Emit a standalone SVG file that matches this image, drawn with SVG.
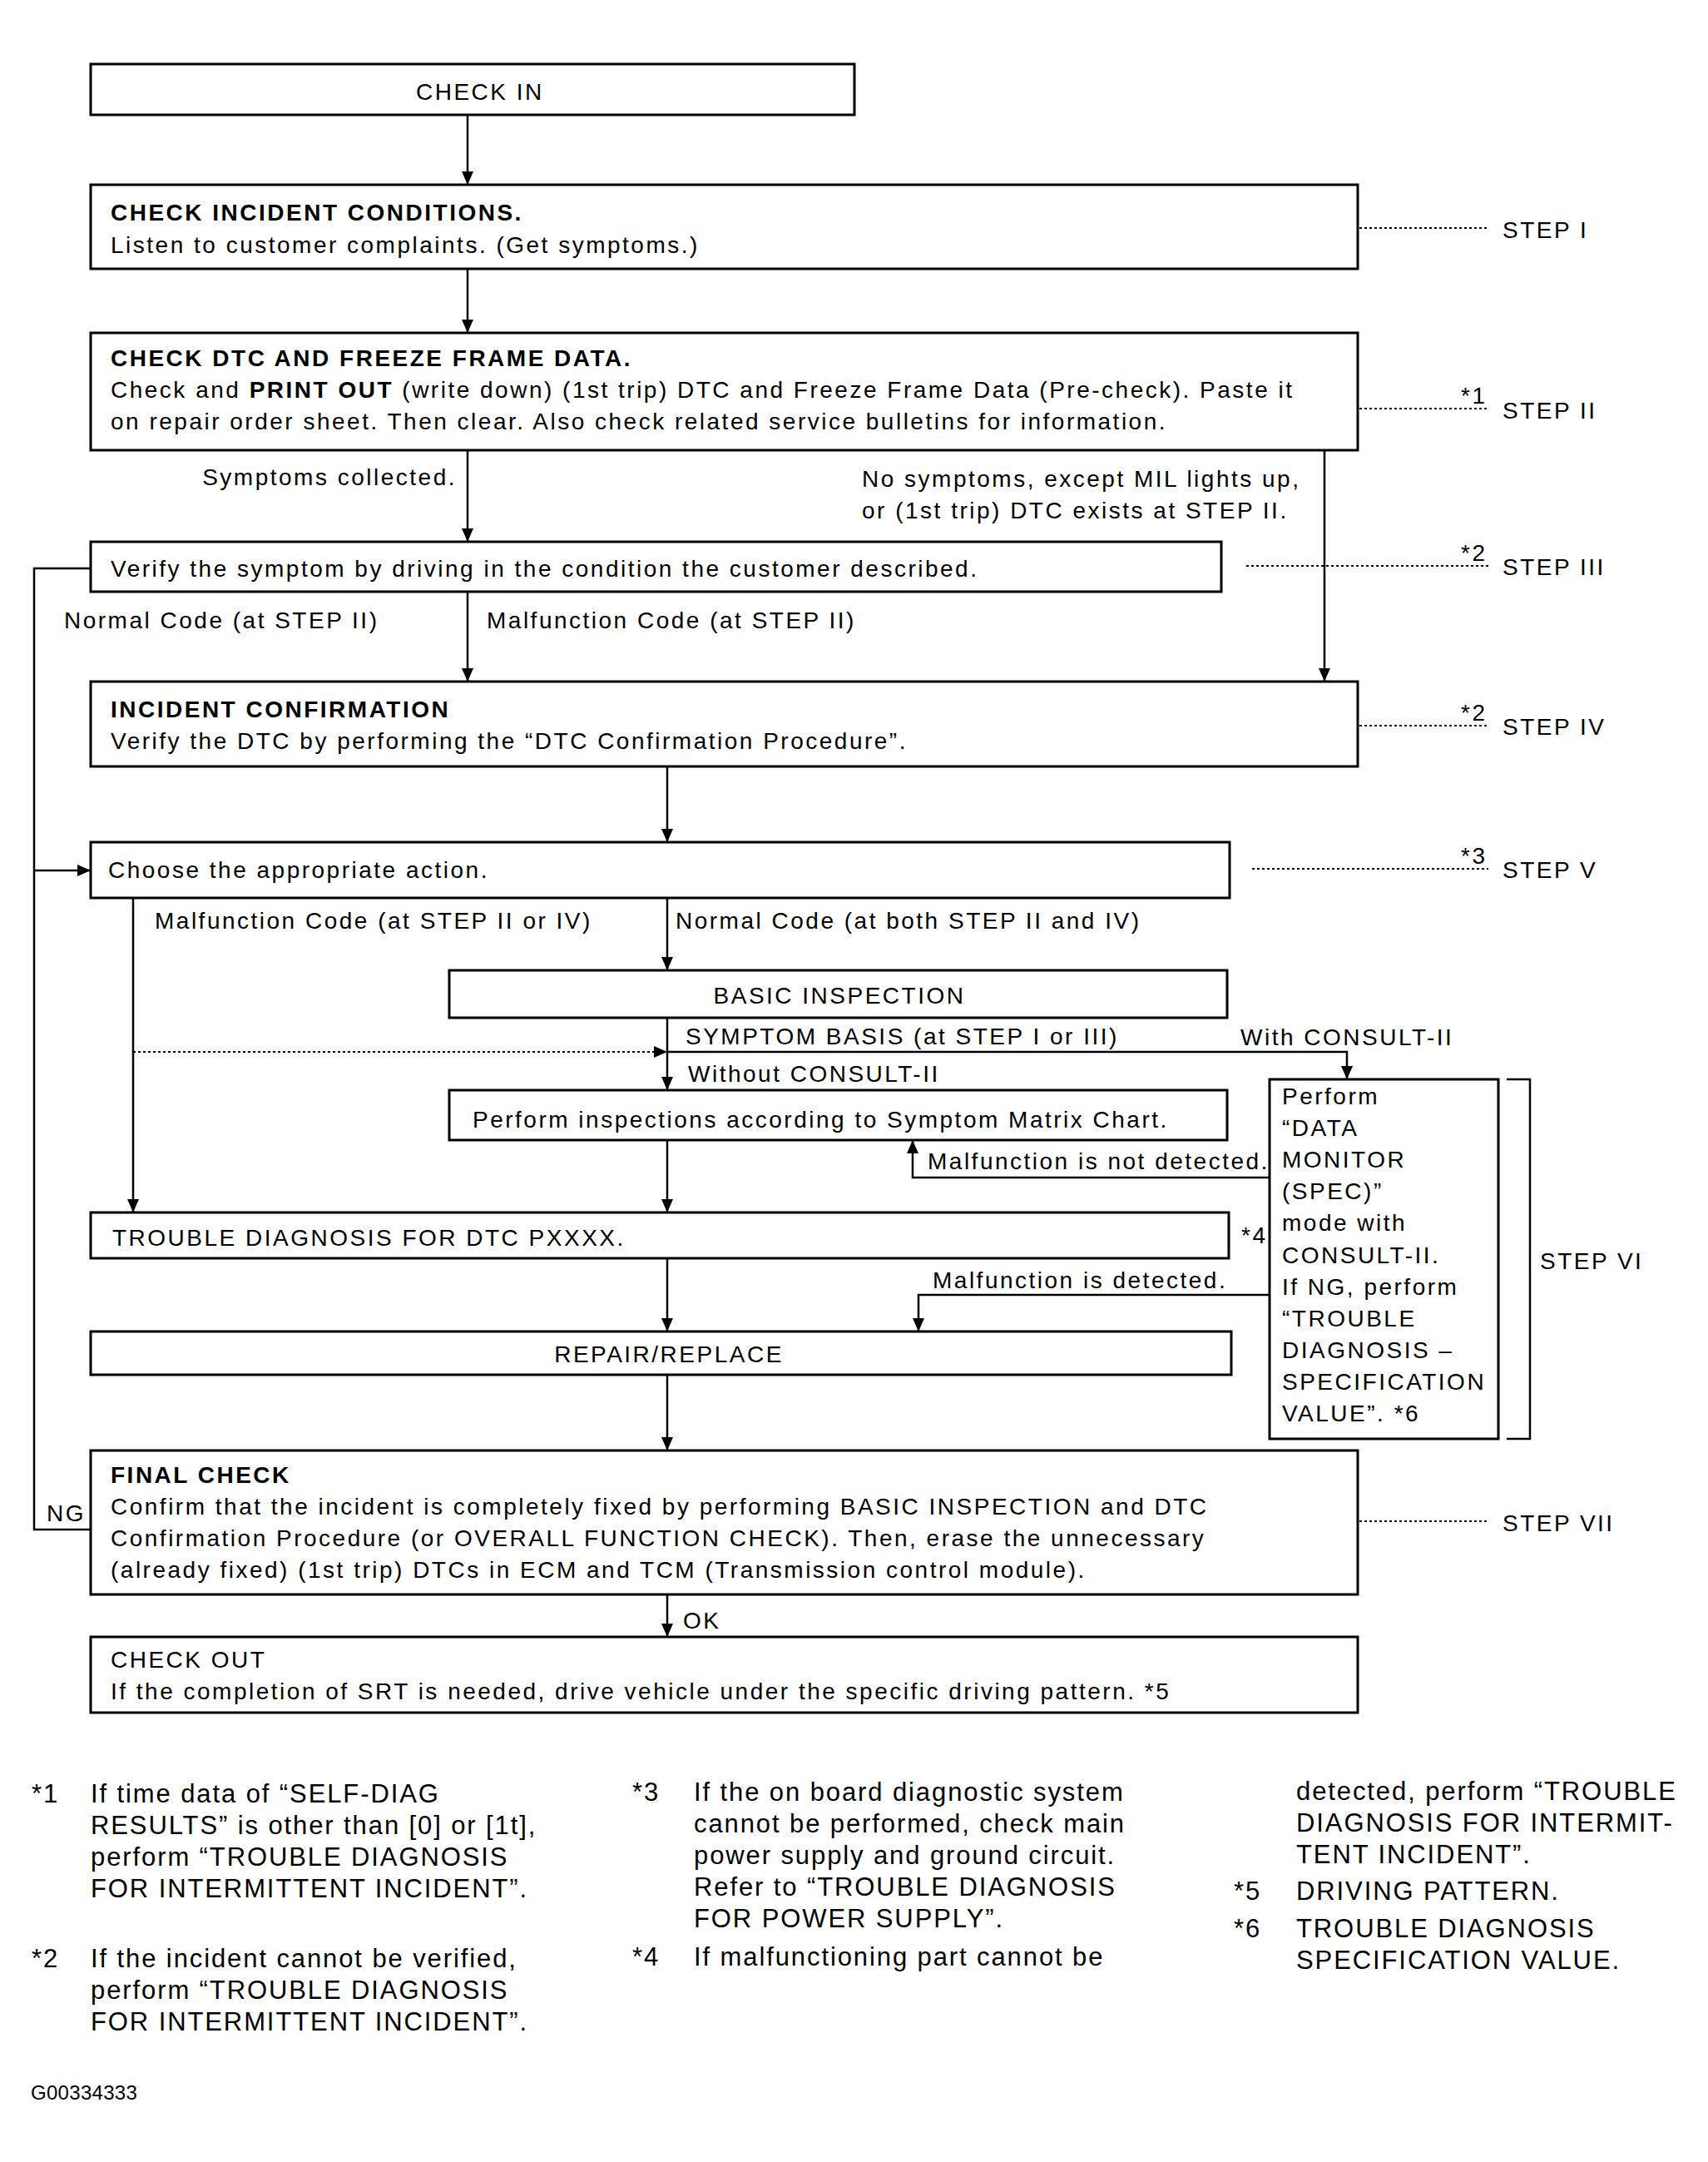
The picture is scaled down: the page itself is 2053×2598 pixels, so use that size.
<svg xmlns="http://www.w3.org/2000/svg" width="2053" height="2598" viewBox="0 0 2053 2598">
<style>
.box{fill:#fff;stroke:#000;stroke-width:3}
.t{font-family:"Liberation Sans",Arial,sans-serif;font-size:28px;letter-spacing:2.5px;fill:#000}
.b{font-weight:bold}
.fn{font-family:"Liberation Sans",Arial,sans-serif;font-size:31px;letter-spacing:1.9px;fill:#000}
.ln{stroke:#000;stroke-width:2.5;fill:none}
.dot{stroke:#000;stroke-width:2;fill:none;stroke-dasharray:3 3}
</style>
<defs>
<marker id="arr" viewBox="0 0 16 14" refX="16" refY="7" markerWidth="16" markerHeight="14" markerUnits="userSpaceOnUse" orient="auto">
<path d="M0,0 L16,7 L0,14 z" fill="#000"/>
</marker>
</defs>
<rect width="2053" height="2598" fill="#fff"/>

<g id="connectors">
<line class="ln" x1="562" y1="138" x2="562" y2="222" marker-end="url(#arr)"/>
<line class="ln" x1="562" y1="323" x2="562" y2="400" marker-end="url(#arr)"/>
<line class="ln" x1="562" y1="541" x2="562" y2="651" marker-end="url(#arr)"/>
<line class="ln" x1="1592" y1="541" x2="1592" y2="819" marker-end="url(#arr)"/>
<line class="ln" x1="562" y1="711" x2="562" y2="819" marker-end="url(#arr)"/>
<line class="ln" x1="802" y1="921" x2="802" y2="1012" marker-end="url(#arr)"/>
<line class="ln" x1="160" y1="1079" x2="160" y2="1457" marker-end="url(#arr)"/>
<line class="ln" x1="802" y1="1079" x2="802" y2="1166" marker-end="url(#arr)"/>
<line class="ln" x1="802" y1="1223" x2="802" y2="1310" marker-end="url(#arr)"/>
<path class="ln" d="M802,1264 H1619 V1297" marker-end="url(#arr)"/>
<line class="dot" x1="160" y1="1264" x2="802" y2="1264" marker-end="url(#arr)"/>
<line class="ln" x1="802" y1="1370" x2="802" y2="1457" marker-end="url(#arr)"/>
<path class="ln" d="M1526,1415 H1097 V1370" marker-end="url(#arr)"/>
<path class="ln" d="M1526,1556 H1104 V1600" marker-end="url(#arr)"/>
<line class="ln" x1="802" y1="1512" x2="802" y2="1600" marker-end="url(#arr)"/>
<line class="ln" x1="802" y1="1652" x2="802" y2="1743" marker-end="url(#arr)"/>
<line class="ln" x1="802" y1="1916" x2="802" y2="1967" marker-end="url(#arr)"/>
<path class="ln" d="M109,683 H41 V1838 H109"/>
<line class="ln" x1="41" y1="1046" x2="109" y2="1046" marker-end="url(#arr)"/>
<text class="t" x="549" y="583" text-anchor="end">Symptoms collected.</text>
<text class="t" x="1036" y="585">No symptoms, except MIL lights up,</text>
<text class="t" x="1036" y="623">or (1st trip) DTC exists at STEP II.</text>
<text class="t" x="77" y="755">Normal Code (at STEP II)</text>
<text class="t" x="585" y="755">Malfunction Code (at STEP II)</text>
<text class="t" x="186" y="1116">Malfunction Code (at STEP II or IV)</text>
<text class="t" x="812" y="1116">Normal Code (at both STEP II and IV)</text>
<text class="t" x="824" y="1255">SYMPTOM BASIS (at STEP I or III)</text>
<text class="t" x="1491" y="1256">With CONSULT-II</text>
<text class="t" x="827" y="1300">Without CONSULT-II</text>
<text class="t" x="1115" y="1405">Malfunction is not detected.</text>
<text class="t" x="1121" y="1548">Malfunction is detected.</text>
<text class="t" x="56" y="1828">NG</text>
<text class="t" x="821" y="1957">OK</text>
</g>

<g id="n-checkin">
<rect class="box" x="109" y="77" width="918" height="61"/>
<text class="t" x="500" y="120">CHECK IN</text>
</g>
<g id="n-incident">
<rect class="box" x="109" y="222" width="1523" height="101"/>
<text class="t b" x="133" y="265">CHECK INCIDENT CONDITIONS.</text>
<text class="t" x="133" y="304">Listen to customer complaints. (Get symptoms.)</text>
</g>
<g id="n-dtc">
<rect class="box" x="109" y="400" width="1523" height="141"/>
<text class="t b" x="133" y="440">CHECK DTC AND FREEZE FRAME DATA.</text>
<text class="t" x="133" y="478">Check and <tspan class="b">PRINT OUT</tspan> (write down) (1st trip) DTC and Freeze Frame Data (Pre-check). Paste it</text>
<text class="t" x="133" y="516">on repair order sheet. Then clear. Also check related service bulletins for information.</text>
</g>
<g id="n-verify">
<rect class="box" x="109" y="651" width="1359" height="60"/>
<text class="t" x="133" y="693">Verify the symptom by driving in the condition the customer described.</text>
</g>
<g id="n-confirm">
<rect class="box" x="109" y="819" width="1523" height="102"/>
<text class="t b" x="133" y="862">INCIDENT CONFIRMATION</text>
<text class="t" x="133" y="900">Verify the DTC by performing the “DTC Confirmation Procedure”.</text>
</g>
<g id="n-choose">
<rect class="box" x="109" y="1012" width="1369" height="67"/>
<text class="t" x="130" y="1055">Choose the appropriate action.</text>
</g>
<g id="n-basic">
<rect class="box" x="540" y="1166" width="935" height="57"/>
<text class="t" x="1009" y="1206" text-anchor="middle">BASIC INSPECTION</text>
</g>
<g id="n-perform">
<rect class="box" x="540" y="1310" width="935" height="60"/>
<text class="t" x="568" y="1355">Perform inspections according to Symptom Matrix Chart.</text>
</g>
<g id="n-datamonitor">
<rect class="box" x="1526" y="1297" width="275" height="432"/>
<text class="t" x="1541" y="1327">Perform</text>
<text class="t" x="1541" y="1365">“DATA</text>
<text class="t" x="1541" y="1403">MONITOR</text>
<text class="t" x="1541" y="1441">(SPEC)”</text>
<text class="t" x="1541" y="1479">mode with</text>
<text class="t" x="1541" y="1518">CONSULT-II.</text>
<text class="t" x="1541" y="1556">If NG, perform</text>
<text class="t" x="1541" y="1594">“TROUBLE</text>
<text class="t" x="1541" y="1632">DIAGNOSIS –</text>
<text class="t" x="1541" y="1670">SPECIFICATION</text>
<text class="t" x="1541" y="1708">VALUE”. *6</text>
</g>
<g id="n-trouble">
<rect class="box" x="109" y="1457" width="1368" height="55"/>
<text class="t" x="135" y="1497">TROUBLE DIAGNOSIS FOR DTC PXXXX.</text>
<text class="t" x="1492" y="1494">*4</text>
</g>
<g id="n-repair">
<rect class="box" x="109" y="1600" width="1371" height="52"/>
<text class="t" x="804" y="1637" text-anchor="middle">REPAIR/REPLACE</text>
</g>
<g id="n-final">
<rect class="box" x="109" y="1743" width="1523" height="173"/>
<text class="t b" x="133" y="1782">FINAL CHECK</text>
<text class="t" x="133" y="1820">Confirm that the incident is completely fixed by performing BASIC INSPECTION and DTC</text>
<text class="t" x="133" y="1858">Confirmation Procedure (or OVERALL FUNCTION CHECK). Then, erase the unnecessary</text>
<text class="t" x="133" y="1896">(already fixed) (1st trip) DTCs in ECM and TCM (Transmission control module).</text>
</g>
<g id="n-checkout">
<rect class="box" x="109" y="1967" width="1523" height="91"/>
<text class="t" x="133" y="2004">CHECK OUT</text>
<text class="t" x="133" y="2042">If the completion of SRT is needed, drive vehicle under the specific driving pattern. *5</text>
</g>

<g id="steps">
<line class="dot" x1="1634" y1="274" x2="1789" y2="274"/>
<text class="t" x="1806" y="286">STEP I</text>
<line class="dot" x1="1634" y1="491" x2="1789" y2="491"/>
<text class="t" x="1756" y="485" letter-spacing="1">*1</text>
<text class="t" x="1806" y="503">STEP II</text>
<line class="dot" x1="1498" y1="680" x2="1789" y2="680"/>
<text class="t" x="1756" y="674" letter-spacing="1">*2</text>
<text class="t" x="1806" y="691">STEP III</text>
<line class="dot" x1="1634" y1="872" x2="1789" y2="872"/>
<text class="t" x="1756" y="866" letter-spacing="1">*2</text>
<text class="t" x="1806" y="883">STEP IV</text>
<line class="dot" x1="1505" y1="1044" x2="1789" y2="1044"/>
<text class="t" x="1756" y="1038" letter-spacing="1">*3</text>
<text class="t" x="1806" y="1055">STEP V</text>
<path class="ln" d="M1811,1297 H1839 V1729 H1811" stroke-width="3"/>
<text class="t" x="1851" y="1525">STEP VI</text>
<line class="dot" x1="1634" y1="1828" x2="1789" y2="1828"/>
<text class="t" x="1806" y="1840">STEP VII</text>
</g>

<g id="footnotes">
<text class="fn" x="38" y="2166">*1</text>
<text class="fn" x="109" y="2166">If time data of “SELF-DIAG</text>
<text class="fn" x="109" y="2204">RESULTS” is other than [0] or [1t],</text>
<text class="fn" x="109" y="2242">perform “TROUBLE DIAGNOSIS</text>
<text class="fn" x="109" y="2280">FOR INTERMITTENT INCIDENT”.</text>
<text class="fn" x="38" y="2364">*2</text>
<text class="fn" x="109" y="2364">If the incident cannot be verified,</text>
<text class="fn" x="109" y="2402">perform “TROUBLE DIAGNOSIS</text>
<text class="fn" x="109" y="2440">FOR INTERMITTENT INCIDENT”.</text>
<text class="fn" x="760" y="2164">*3</text>
<text class="fn" x="834" y="2164">If the on board diagnostic system</text>
<text class="fn" x="834" y="2202">cannot be performed, check main</text>
<text class="fn" x="834" y="2240">power supply and ground circuit.</text>
<text class="fn" x="834" y="2278">Refer to “TROUBLE DIAGNOSIS</text>
<text class="fn" x="834" y="2316">FOR POWER SUPPLY”.</text>
<text class="fn" x="760" y="2362">*4</text>
<text class="fn" x="834" y="2362">If malfunctioning part cannot be</text>
<text class="fn" x="1558" y="2163">detected, perform “TROUBLE</text>
<text class="fn" x="1558" y="2201">DIAGNOSIS FOR INTERMIT-</text>
<text class="fn" x="1558" y="2239">TENT INCIDENT”.</text>
<text class="fn" x="1483" y="2283">*5</text>
<text class="fn" x="1558" y="2283">DRIVING PATTERN.</text>
<text class="fn" x="1483" y="2328">*6</text>
<text class="fn" x="1558" y="2328">TROUBLE DIAGNOSIS</text>
<text class="fn" x="1558" y="2366">SPECIFICATION VALUE.</text>
<text class="t" x="37" y="2523" style="font-size:24px;letter-spacing:0.3px">G00334333</text>
</g>
</svg>
